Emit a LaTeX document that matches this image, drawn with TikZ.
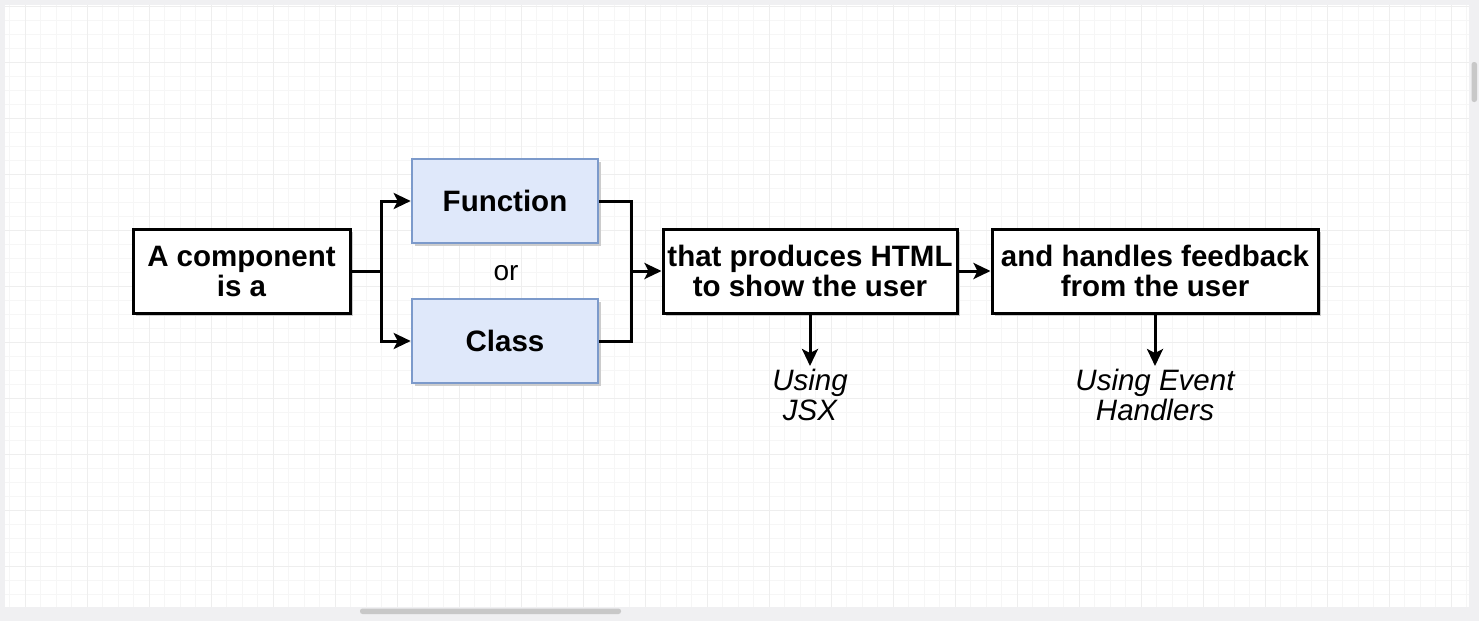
\documentclass[tikz,border=0pt]{standalone}
\usepackage{fontspec}
\setmainfont{Liberation Sans}
\usetikzlibrary{arrows.meta}
\definecolor{boxblue}{HTML}{DFE8FA}
\definecolor{boxblueline}{HTML}{7C9ACB}
\definecolor{gridminor}{HTML}{F6F6F6}
\definecolor{gridmajor}{HTML}{EEEEEE}
\definecolor{chrome}{HTML}{F0F0F2}
\definecolor{thumb}{HTML}{C8C8C8}
\tikzset{
  x=1pt, y=-1pt,
  plainbox/.style={draw=black, line width=3pt, fill=white, align=center,
    minimum height=84pt, inner sep=0pt,
    font=\fontsize{29.5}{30}\selectfont\bfseries},
  bluebox/.style={plainbox, draw=boxblueline, fill=boxblue, line width=2.6pt},
  shadowbox/.style={fill=black!20, draw=none},
  conn/.style={line width=3pt, line cap=butt, line join=miter},
  arr/.style={conn, -{Stealth[length=17pt, width=16pt, inset=4pt]}},
  note/.style={align=center, font=\fontsize{29.5}{30}\selectfont\itshape},
}
\begin{document}
\begin{tikzpicture}
\useasboundingbox (0,0) rectangle (1479,621);
% window chrome and canvas
\fill[chrome] (0,0) rectangle (1479,621);
\fill[white] (5,5) rectangle (1469,607);
\begin{scope}
  \clip (5,5) rectangle (1469,607);
  \foreach \i in {0,...,96} {
    \draw[gridminor, line width=0.8pt] ({9.5+15.5*\i},5) -- ({9.5+15.5*\i},607);
  }
  \foreach \j in {0,...,44} {
    \draw[gridminor, line width=0.8pt] (5,{6+14*\j}) -- (1469,{6+14*\j});
  }
  \foreach \i in {0,...,24} {
    \draw[gridmajor, line width=1pt] ({25+62*\i},5) -- ({25+62*\i},607);
  }
  \foreach \j in {0,...,11} {
    \draw[gridmajor, line width=1pt] (5,{6+56*\j}) -- (1469,{6+56*\j});
  }
\end{scope}
\fill[thumb, rounded corners=2.5pt] (360,608.5) rectangle (621,614);
\fill[thumb, rounded corners=2.5pt] (1471.5,62) rectangle (1477,102);

% shadows
\fill[shadowbox] (136,232) rectangle (353,316);
\fill[shadowbox] (415,162) rectangle (601,246);
\fill[shadowbox] (415,302) rectangle (601,386);
\fill[shadowbox] (666,232) rectangle (960,316);
\fill[shadowbox] (995,232) rectangle (1321,316);

% boxes
\node[plainbox, minimum width=217pt] (comp) at (241.5,271) {A component\\is a};
\node[bluebox, minimum width=186pt] (func) at (505,201) {Function};
\node[bluebox, minimum width=186pt] (cls) at (505,341) {Class};
\node[font=\fontsize{28}{30}\selectfont] (or) at (506,273) {or};
\node[plainbox, minimum width=294pt] (html) at (810,271) {that produces HTML\\to show the user};
\node[plainbox, minimum width=326pt] (fb) at (1155,271) {and handles feedback\\from the user};
\node[note, anchor=north] (jsx) at (810,366) {Using\\JSX};
\node[note, anchor=north] (ev) at (1155,366) {Using Event\\Handlers};

% connectors
\coordinate (split) at (381,271);
\coordinate (join) at (631,271);
\draw[arr] (comp.east) -- (split) |- (func.west);
\draw[arr] (split) |- (cls.west);
\draw[conn] (func.east) -| (join);
\draw[conn] (cls.east) -| (join);
\draw[arr] (join) -- (html.west);
\draw[arr] (html.east) -- (fb.west);
\draw[arr] (html.south) -- (jsx.north);
\draw[arr] (fb.south) -- (ev.north);
\end{tikzpicture}
\end{document}
